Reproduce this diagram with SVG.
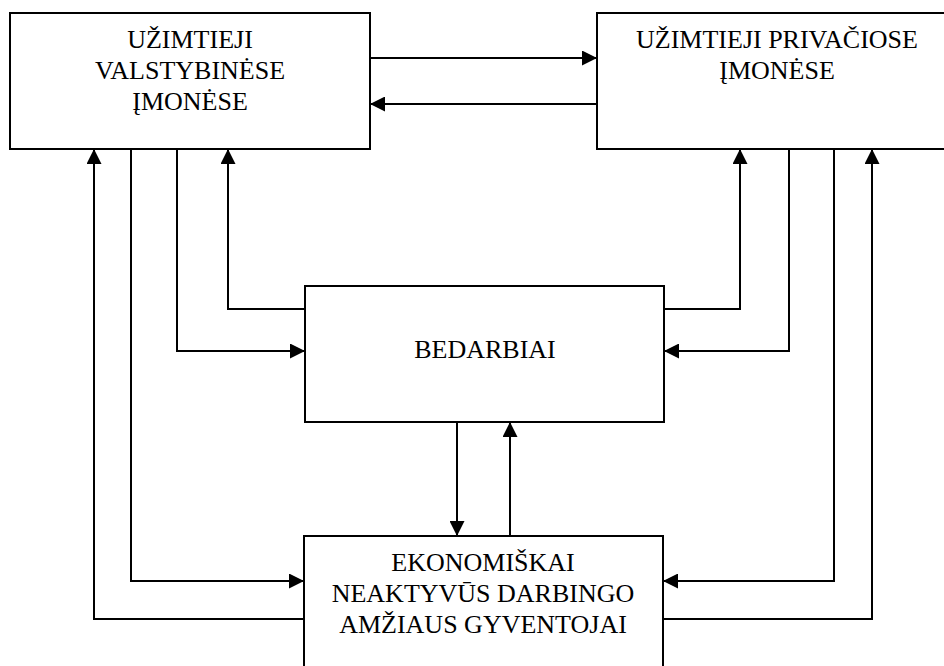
<svg xmlns="http://www.w3.org/2000/svg" width="944" height="666" viewBox="0 0 944 666">
<style>
.box{fill:#fff;stroke:#000;stroke-width:2}
.con{fill:none;stroke:#000;stroke-width:2;marker-end:url(#ah)}
text.lbl{font-family:'Liberation Serif',serif !important;font-size:26px;fill:#000;text-anchor:middle}
</style>
<defs>
<marker id="ah" markerUnits="userSpaceOnUse" markerWidth="15" markerHeight="15" refX="15" refY="7.5" orient="auto">
<path d="M0,0 L15,7.5 L0,15 z" fill="#000"/>
</marker>
</defs>
<rect width="944" height="666" fill="#fff"/>
<g id="connectors">
<path class="con" d="M370,58 H597"/>
<path class="con" d="M597,104 H370"/>
<path class="con" d="M304,619 H94 V149"/>
<path class="con" d="M131,149 V581 H304"/>
<path class="con" d="M177,149 V351 H305"/>
<path class="con" d="M305,309 H228 V149"/>
<path class="con" d="M664,309 H740 V149"/>
<path class="con" d="M789,149 V351 H664"/>
<path class="con" d="M834,149 V581 H663"/>
<path class="con" d="M663,619 H872 V149"/>
<path class="con" d="M457,422 V536"/>
<path class="con" d="M510,536 V422"/>
</g>
<g id="valst">
<rect class="box" x="10" y="13" width="360" height="136"/>
<text class="lbl" style="font-family:'Liberation Serif',serif !important" font-family="Liberation Serif" x="190" y="48">UŽIMTIEJI</text>
<text class="lbl" style="font-family:'Liberation Serif',serif !important" font-family="Liberation Serif" x="190" y="79">VALSTYBINĖSE</text>
<text class="lbl" style="font-family:'Liberation Serif',serif !important" font-family="Liberation Serif" x="190" y="110">ĮMONĖSE</text>
</g>
<g id="priv">
<rect class="box" x="597" y="13" width="360" height="136"/>
<text class="lbl" style="font-family:'Liberation Serif',serif !important" font-family="Liberation Serif" x="777" y="48">UŽIMTIEJI PRIVAČIOSE</text>
<text class="lbl" style="font-family:'Liberation Serif',serif !important" font-family="Liberation Serif" x="777" y="79">ĮMONĖSE</text>
</g>
<g id="bedarbiai">
<rect class="box" x="305" y="286" width="359" height="136"/>
<text class="lbl" style="font-family:'Liberation Serif',serif !important" font-family="Liberation Serif" x="485" y="358">BEDARBIAI</text>
</g>
<g id="neaktyvus">
<rect class="box" x="304" y="536" width="359" height="140"/>
<text class="lbl" style="font-family:'Liberation Serif',serif !important" font-family="Liberation Serif" x="483" y="571">EKONOMIŠKAI</text>
<text class="lbl" style="font-family:'Liberation Serif',serif !important" font-family="Liberation Serif" x="483" y="602">NEAKTYVŪS DARBINGO</text>
<text class="lbl" style="font-family:'Liberation Serif',serif !important" font-family="Liberation Serif" x="483" y="633">AMŽIAUS GYVENTOJAI</text>
</g>
</svg>
